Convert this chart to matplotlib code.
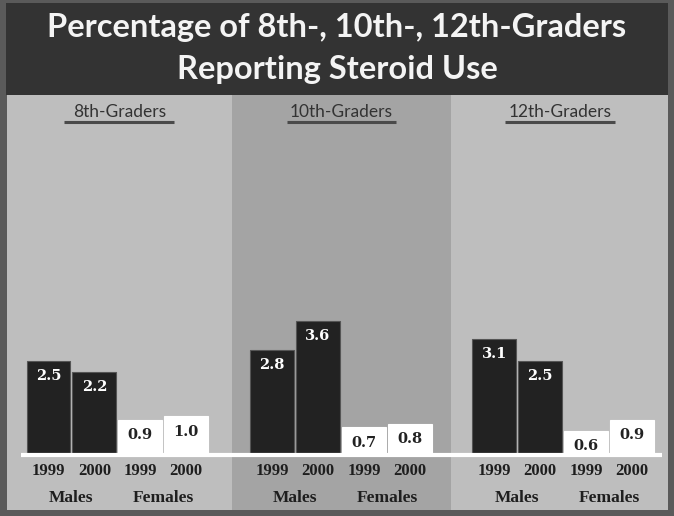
import numpy as np
import matplotlib.pyplot as plt
from matplotlib.patches import Rectangle

title = "Percentage of 8th-, 10th-, 12th-Graders\nReporting Steroid Use"
grades = ["8th-Graders", "10th-Graders", "12th-Graders"]
years = ["1999", "2000", "1999", "2000"]
sexes = ["Males", "Females"]
males = [[2.5, 2.2], [2.8, 3.6], [3.1, 2.5]]
females = [[0.9, 1.0], [0.7, 0.8], [0.6, 0.9]]

W, H = 674, 516
fig = plt.figure(figsize=(W / 100, H / 100), dpi=100)
fig.patch.set_facecolor("#5a5a5a")

def fx(px):
    return px / W

def fy(py):
    return 1 - py / H

# title band
fig.patches.append(Rectangle((fx(6), fy(95)), fx(662), 92 / H, transform=fig.transFigure,
                             facecolor="#333333", edgecolor="none", zorder=0))
fig.text(0.5, fy(27), title.split("\n")[0], ha="center", va="center", color="#f4f4f4",
         fontsize=23.5, family="Lato", fontweight="bold")
fig.text(0.5, fy(69), title.split("\n")[1], ha="center", va="center", color="#f4f4f4",
         fontsize=23.5, family="Lato", fontweight="bold")

# chart axes, pixel rectangle 6..668 x 95..510
ax = fig.add_axes([fx(6), fy(510), fx(662), 415 / H])
step = 46.0
ax.set_xlim(-1 / step, 662 / step)
ppu = 36.8
ax.set_ylim(-(510 - 453) / ppu, (453 - 95) / ppu)
ax.axis("off")

light, mid = "#bebebe", "#a4a4a4"
bounds = [0, 225 / step, 445 / step, 662 / step]
for i in range(3):
    ax.axvspan(bounds[i], bounds[i + 1], color=[light, mid, light][i], zorder=0, lw=0)

group_start = [41.5 / step, 265.5 / step, 488 / step]
bw = 0.955
for g in range(3):
    xs = group_start[g] + np.arange(4)
    vals = males[g] + females[g]
    cols = ["#222222", "#222222", "white", "white"]
    ax.bar(xs, vals, width=bw, color=cols, edgecolor=["#555555", "#555555", "white", "white"],
           lw=0.8, zorder=2)
    for k, (x, v) in enumerate(zip(xs, vals)):
        tc = "white" if k < 2 else "#222222"
        ax.text(x, v - 0.42, f"{v:.1f}", ha="center", va="center", color=tc,
                fontsize=10.5, fontweight="bold", family="DejaVu Serif", zorder=3)
    for k, x in enumerate(xs):
        ax.text(x, -18 / ppu, years[k], ha="center", va="center", color="#1e1e1e",
                fontsize=12, family="Liberation Serif", fontweight="bold", zorder=3)
    for s in range(2):
        ax.text(xs[2 * s] + 0.5, -45 / ppu, sexes[s], ha="center", va="center",
                color="#1e1e1e", fontsize=12.5, family="Liberation Serif", fontweight="bold",
                zorder=3)
    cx = (bounds[g] + bounds[g + 1]) / 2
    ax.text(cx, (453 - 112) / ppu, grades[g], ha="center", va="center", color="#333333",
            fontsize=12.5, family="Lato", zorder=3)
    ax.plot([cx - 55 / step, cx + 55 / step], [(453 - 122) / ppu] * 2, color="#4a4a4a",
            lw=2.2, solid_capstyle="butt", zorder=3)

# white baseline
ax.plot([14 / step, 656 / step], [-2 / ppu, -2 / ppu], color="white", lw=3,
        solid_capstyle="butt", zorder=2.5)

fig.savefig("out.png", dpi=100, facecolor=fig.get_facecolor())
